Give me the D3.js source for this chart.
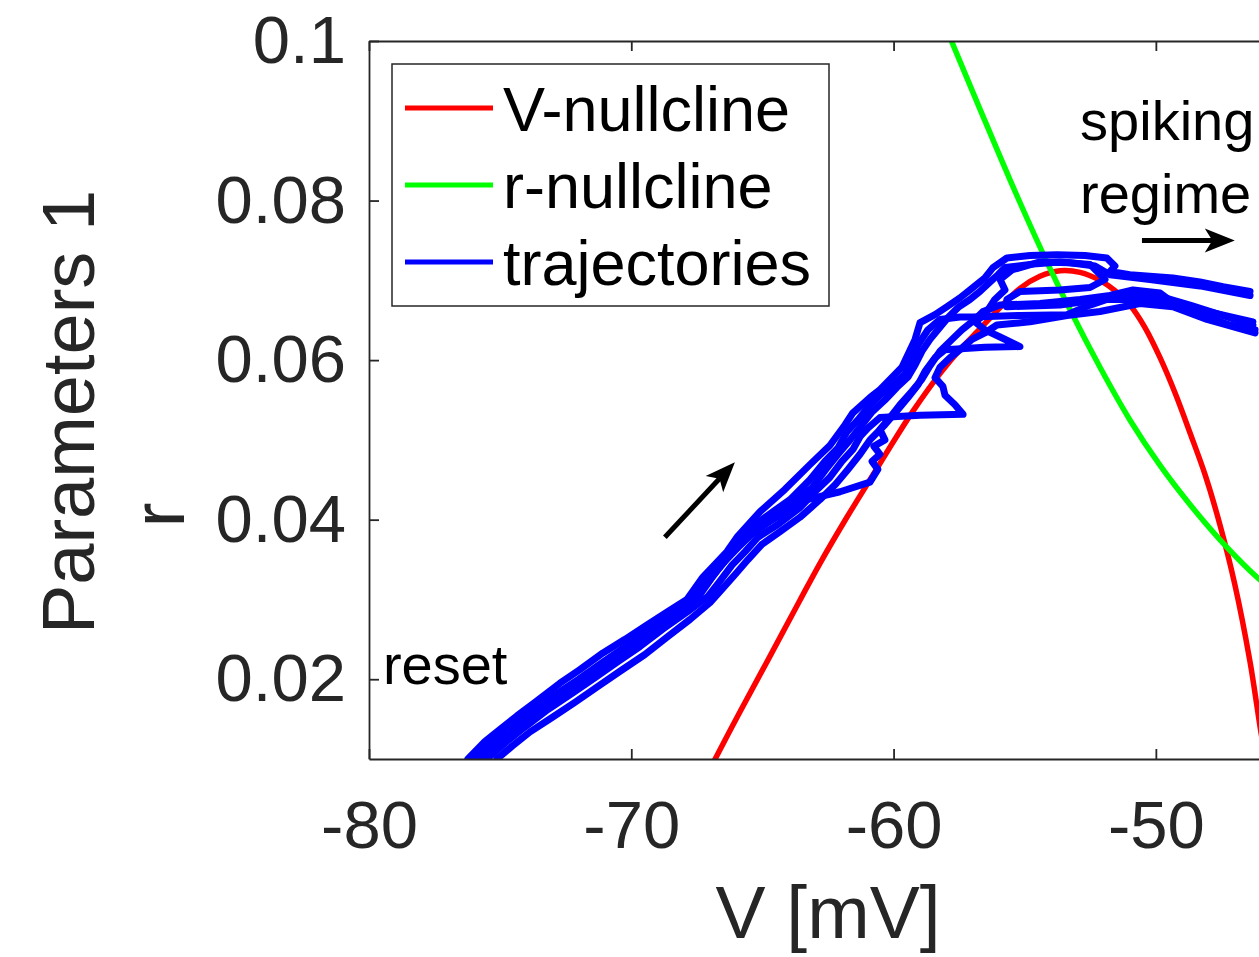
<!DOCTYPE html>
<html>
<head>
<meta charset="utf-8">
<title>Phase plane</title>
<script src="https://cdn.jsdelivr.net/npm/d3@7"></script>
<style>
  body { margin: 0; background: #fff; }
  svg { display: block; font-family: "Liberation Sans", Arial, sans-serif; }
  .axis path, .axis line { stroke: #262626; stroke-width: 1.8px; }
  .axis text { fill: #262626; font-size: 67px; font-family: "Liberation Sans", Arial, sans-serif; }
  .curve { fill: none; stroke-linejoin: round; stroke-linecap: round; }
</style>
</head>
<body>
<div id="chart"></div>
<script>
// axis ticks
const xTicks = [-80, -70, -60, -50];
const xTickLabels = ["-80", "-70", "-60", "-50"];
const yTicks = [0.02, 0.04, 0.06, 0.08, 0.1];
const yTickLabels = ["0.02", "0.04", "0.06", "0.08", "0.1"];

// nullclines [V, r]
const vNullcline = [[-66.85,0.0097],[-65.86,0.0159],[-64.71,0.0229],[-63.57,0.0299],[-62.81,0.0345],[-61.78,0.0403],
  [-60.90,0.0450],[-60.02,0.0497],[-59.26,0.0536],[-58.23,0.0583],[-57.47,0.0613],[-56.71,0.0639],[-55.94,0.0666],
  [-55.18,0.0690],[-54.42,0.0705],[-53.66,0.0712],[-52.89,0.0710],[-52.13,0.0700],[-51.56,0.0687],[-50.99,0.0669],
  [-50.42,0.0641],[-49.84,0.0603],[-49.27,0.0559],[-48.70,0.0509],[-48.13,0.0457],[-47.56,0.0394],[-46.99,0.0319],
  [-46.41,0.0222],[-45.96,0.0127],[-45.76,0.0094]];
const rNullcline = [[-57.92,0.1010],[-56.71,0.0915],[-55.56,0.0826],[-54.42,0.0742],[-53.27,0.0663],[-52.13,0.0591],
  [-50.99,0.0525],[-49.84,0.0468],[-48.70,0.0419],[-47.56,0.0375],[-46.41,0.0336],[-45.27,0.0303]];

// trajectories [V, r]
const traj1 = [[-76.23,0.0100],[-75.58,0.0122],[-75.01,0.0137],[-74.36,0.0154],[-73.67,0.0171],[-72.72,0.0195],
  [-71.96,0.0212],[-71.08,0.0233],[-70.24,0.0250],[-69.40,0.0268],[-68.60,0.0285],[-67.88,0.0300],[-67.27,0.0328],
  [-66.81,0.0344],[-66.35,0.0360],[-65.97,0.0378],[-65.09,0.0410],[-64.14,0.0438],[-63.19,0.0469],[-62.43,0.0493],
  [-61.85,0.0519],[-61.55,0.0534],[-60.90,0.0553],[-60.52,0.0563],[-59.95,0.0582],[-59.68,0.0591],[-59.18,0.0626],
  [-58.99,0.0647],[-58.42,0.0657],[-57.96,0.0667],[-57.47,0.0678],[-57.09,0.0688],[-56.52,0.0703],[-56.21,0.0716],
  [-55.68,0.0728],[-54.80,0.0731],[-53.77,0.0732],[-52.70,0.0731],[-51.87,0.0728],[-51.56,0.0718],[-51.75,0.0711],
  [-50.99,0.0707],[-49.35,0.0703],[-48.32,0.0698],[-47.44,0.0692],[-46.41,0.0686]];
const traj2 = [[-75.85,0.0100],[-75.20,0.0119],[-74.43,0.0137],[-73.48,0.0160],[-72.53,0.0180],[-71.57,0.0202],
  [-70.74,0.0222],[-69.86,0.0244],[-68.91,0.0266],[-68.07,0.0288],[-67.38,0.0306],[-66.92,0.0328],[-66.43,0.0348],
  [-65.93,0.0365],[-65.40,0.0382],[-64.71,0.0398],[-63.95,0.0413],[-63.30,0.0425],[-62.04,0.0435],[-60.90,0.0447],
  [-60.60,0.0463],[-60.82,0.0473],[-60.52,0.0482],[-60.75,0.0492],[-60.33,0.0500],[-60.52,0.0513],[-60.14,0.0528],
  [-59.76,0.0544],[-59.30,0.0561],[-58.92,0.0576],[-58.61,0.0593],[-58.23,0.0611],[-57.77,0.0626],[-57.39,0.0638],
  [-56.90,0.0651],[-56.59,0.0661],[-55.94,0.0669],[-54.42,0.0671],[-52.89,0.0676],[-51.75,0.0681],[-50.87,0.0688],
  [-49.84,0.0684],[-49.35,0.0672],[-48.05,0.0661],[-46.30,0.0648]];
const traj3 = [[-75.50,0.0100],[-74.82,0.0120],[-74.06,0.0140],[-73.18,0.0162],[-72.27,0.0182],[-71.38,0.0202],
  [-70.51,0.0222],[-69.67,0.0241],[-68.79,0.0263],[-67.84,0.0285],[-67.07,0.0304],[-66.62,0.0323],[-66.16,0.0343],
  [-65.66,0.0360],[-65.17,0.0378],[-64.41,0.0394],[-63.57,0.0415],[-63.00,0.0435],[-62.43,0.0453],[-61.97,0.0473],
  [-61.55,0.0488],[-61.28,0.0504],[-60.97,0.0515],[-60.52,0.0528],[-58.99,0.0531],[-57.35,0.0532],[-57.66,0.0544],
  [-58.04,0.0556],[-58.12,0.0567],[-58.42,0.0578],[-58.23,0.0591],[-57.85,0.0603],[-57.47,0.0613],[-57.01,0.0626],
  [-56.52,0.0634],[-56.06,0.0644],[-54.80,0.0648],[-53.39,0.0656],[-52.13,0.0661],[-50.61,0.0671],[-49.35,0.0667],
  [-48.05,0.0651],[-46.22,0.0634]];
const traj4 = [[-75.12,0.0100],[-74.55,0.0116],[-73.86,0.0134],[-73.02,0.0152],[-72.15,0.0171],[-71.27,0.0191],
  [-70.43,0.0210],[-69.48,0.0231],[-68.63,0.0253],[-67.76,0.0275],[-67.00,0.0296],[-66.54,0.0313],[-66.05,0.0331],
  [-65.55,0.0350],[-65.02,0.0369],[-64.33,0.0385],[-63.57,0.0403],[-62.81,0.0425],[-62.22,0.0444],[-61.74,0.0463],
  [-61.28,0.0482],[-60.90,0.0500],[-60.33,0.0519],[-59.83,0.0538],[-59.45,0.0553],[-59.07,0.0569],[-58.80,0.0586],
  [-58.42,0.0603],[-58.04,0.0613],[-56.52,0.0616],[-55.18,0.0617],[-55.94,0.0629],[-56.52,0.0638],[-56.90,0.0648],
  [-56.52,0.0657],[-56.14,0.0676],[-55.75,0.0688],[-55.94,0.0701],[-55.49,0.0713],[-54.42,0.0723],[-53.27,0.0722],
  [-52.32,0.0718],[-51.75,0.0707],[-50.23,0.0701],[-48.32,0.0693],[-46.41,0.0681]];
const traj5 = [[-76.08,0.0100],[-75.39,0.0122],[-74.76,0.0141],[-73.86,0.0160],[-72.97,0.0179],[-72.00,0.0200],
  [-71.19,0.0219],[-70.35,0.0238],[-69.48,0.0258],[-68.72,0.0275],[-67.96,0.0294],[-67.46,0.0313],[-67.00,0.0331],
  [-66.54,0.0350],[-66.12,0.0369],[-65.66,0.0385],[-64.90,0.0403],[-63.95,0.0425],[-63.19,0.0450],[-62.62,0.0473],
  [-62.12,0.0490],[-61.78,0.0510],[-61.36,0.0525],[-60.97,0.0541],[-60.52,0.0556],[-60.02,0.0569],[-59.57,0.0582],
  [-59.30,0.0601],[-59.07,0.0619],[-58.69,0.0638],[-58.23,0.0651],[-57.47,0.0654],[-56.98,0.0654],[-55.18,0.0656],
  [-53.39,0.0657],[-52.51,0.0669],[-51.87,0.0676],[-50.87,0.0680],[-49.84,0.0680],[-48.70,0.0669],[-47.56,0.0657],
  [-46.30,0.0644]];
const traj6 = [[-75.69,0.0100],[-75.01,0.0124],[-74.17,0.0146],[-73.29,0.0166],[-72.41,0.0187],[-71.50,0.0209],
  [-70.70,0.0228],[-69.78,0.0248],[-69.02,0.0265],[-68.22,0.0284],[-67.57,0.0303],[-67.11,0.0319],[-66.69,0.0338],
  [-66.24,0.0355],[-65.78,0.0373],[-65.25,0.0390],[-64.52,0.0408],[-63.76,0.0423],[-63.11,0.0440],[-62.58,0.0463],
  [-62.12,0.0482],[-61.66,0.0500],[-61.20,0.0519],[-60.82,0.0535],[-60.33,0.0550],[-59.87,0.0566],[-59.45,0.0579],
  [-59.18,0.0594],[-58.92,0.0611],[-58.61,0.0626],[-58.31,0.0638],[-57.93,0.0653],[-57.54,0.0666],[-57.09,0.0676],
  [-56.71,0.0686],[-56.32,0.0698],[-56.02,0.0707],[-55.75,0.0716],[-54.80,0.0720],[-53.66,0.0723],[-52.51,0.0720],
  [-51.94,0.0701],[-52.51,0.0691],[-53.66,0.0688],[-55.18,0.0686],[-55.68,0.0676],[-55.68,0.0667],[-53.66,0.0669],
  [-52.13,0.0676],[-49.84,0.0676],[-48.32,0.0657],[-47.18,0.0644],[-46.22,0.0638]];
const trajectories = [traj1, traj2, traj3, traj4, traj5, traj6];

// legend and annotations
const legendLabels = ["V-nullcline", "r-nullcline", "trajectories"];
const colors = ["#ff0000", "#00ff00", "#0000ff"];
const arrowUp = [[-68.72, 0.0378], [-66.05, 0.0472]];
const arrowRight = [[-50.53, 0.0750], [-46.99, 0.0750]];
const notes = [
  { text: "spiking", v: -52.89, r: 0.0876 },
  { text: "regime", v: -52.89, r: 0.0785 },
  { text: "reset", v: -79.47, r: 0.0194 }
];

const W = 1259, H = 957;
const margin = { top: 41, left: 369 };
const plotW = 918, plotH = 718;

const svg = d3.select("#chart").append("svg")
  .attr("width", W)
  .attr("height", H);

const x = d3.scaleLinear().domain([-80, -45]).range([margin.left, margin.left + plotW]);
const y = d3.scaleLinear().domain([0.01, 0.1]).range([margin.top + plotH, margin.top]);

svg.append("clipPath").attr("id", "plotclip")
  .append("rect")
  .attr("x", margin.left).attr("y", margin.top)
  .attr("width", plotW).attr("height", plotH);

const plot = svg.append("g").attr("clip-path", "url(#plotclip)");
const line = d3.line().x(d => x(d[0])).y(d => y(d[1]));

plot.append("path").datum(vNullcline).attr("class", "curve")
  .attr("stroke", colors[0]).attr("stroke-width", 5.5).attr("d", line.curve(d3.curveCatmullRom));
plot.append("path").datum(rNullcline).attr("class", "curve")
  .attr("stroke", colors[1]).attr("stroke-width", 5.5).attr("d", line.curve(d3.curveCatmullRom));

line.curve(d3.curveLinear);
plot.selectAll(".traj").data(trajectories).enter().append("path")
  .attr("class", "curve traj")
  .attr("stroke", colors[2]).attr("stroke-width", 7)
  .attr("d", line);

// axes (ticks pointing inward, box)
svg.append("g").attr("class", "axis")
  .attr("transform", `translate(0,${margin.top + plotH})`)
  .call(d3.axisBottom(x).tickValues(xTicks).tickFormat((d, i) => xTickLabels[i])
    .tickSizeInner(-10).tickSizeOuter(0).tickPadding(41));
svg.append("g").attr("class", "axis")
  .attr("transform", `translate(0,${margin.top})`)
  .call(d3.axisTop(x).tickValues(xTicks).tickFormat("").tickSizeInner(-10).tickSizeOuter(0));
svg.append("g").attr("class", "axis")
  .attr("transform", `translate(${margin.left},0)`)
  .call(d3.axisLeft(y).tickValues(yTicks).tickFormat((d, i) => yTickLabels[i])
    .tickSizeInner(-10).tickSizeOuter(0).tickPadding(23));
svg.append("g").attr("class", "axis")
  .attr("transform", `translate(${margin.left + plotW},0)`)
  .call(d3.axisRight(y).tickValues(yTicks).tickFormat("").tickSizeInner(-10).tickSizeOuter(0));
svg.selectAll(".axis .domain").attr("fill", "none");

// axis labels
svg.append("text")
  .attr("x", margin.left + plotW / 2).attr("y", 938)
  .attr("text-anchor", "middle")
  .attr("font-size", 75).attr("fill", "#262626")
  .text("V [mV]");
svg.append("text")
  .attr("transform", "translate(94,412) rotate(-90)")
  .attr("text-anchor", "middle")
  .attr("font-size", 74).attr("fill", "#262626")
  .text("Parameters 1");
svg.append("text")
  .attr("transform", "translate(184,515) rotate(-90)")
  .attr("text-anchor", "middle")
  .attr("font-size", 74).attr("fill", "#262626")
  .text("r");

// annotations
svg.selectAll(".note").data(notes).enter().append("text")
  .attr("class", "note")
  .attr("x", d => x(d.v)).attr("y", d => y(d.r))
  .attr("font-size", 56).attr("fill", "#000")
  .text(d => d.text);

function arrow(pts) {
  const x0 = x(pts[0][0]), y0 = y(pts[0][1]);
  const x1 = x(pts[1][0]), y1 = y(pts[1][1]);
  const len = Math.hypot(x1 - x0, y1 - y0);
  const ux = (x1 - x0) / len, uy = (y1 - y0) / len;
  const L = 30, hw = 12;
  svg.append("line")
    .attr("x1", x0).attr("y1", y0)
    .attr("x2", x1 - ux * L * 0.7).attr("y2", y1 - uy * L * 0.7)
    .attr("stroke", "#000").attr("stroke-width", 5);
  const head = [
    [x1, y1],
    [x1 - ux * L - uy * hw, y1 - uy * L + ux * hw],
    [x1 - ux * L * 0.75, y1 - uy * L * 0.75],
    [x1 - ux * L + uy * hw, y1 - uy * L - ux * hw]
  ];
  svg.append("polygon").attr("points", head.map(p => p.join(",")).join(" ")).attr("fill", "#000");
}
arrow(arrowUp);
arrow(arrowRight);

// legend
const lg = svg.append("g").attr("class", "legend");
lg.append("rect")
  .attr("x", 392).attr("y", 64).attr("width", 437).attr("height", 242)
  .attr("fill", "#fff").attr("stroke", "#262626").attr("stroke-width", 1.5);
const items = lg.selectAll(".item").data(legendLabels).enter().append("g")
  .attr("class", "item")
  .attr("transform", (d, i) => `translate(0,${108 + i * 77})`);
items.append("line")
  .attr("x1", 405).attr("x2", 493)
  .attr("stroke", (d, i) => colors[i]).attr("stroke-width", 5);
items.append("text")
  .attr("x", 503).attr("y", 23)
  .attr("font-size", 63).attr("fill", "#000")
  .text(d => d);
</script>
</body>
</html>
